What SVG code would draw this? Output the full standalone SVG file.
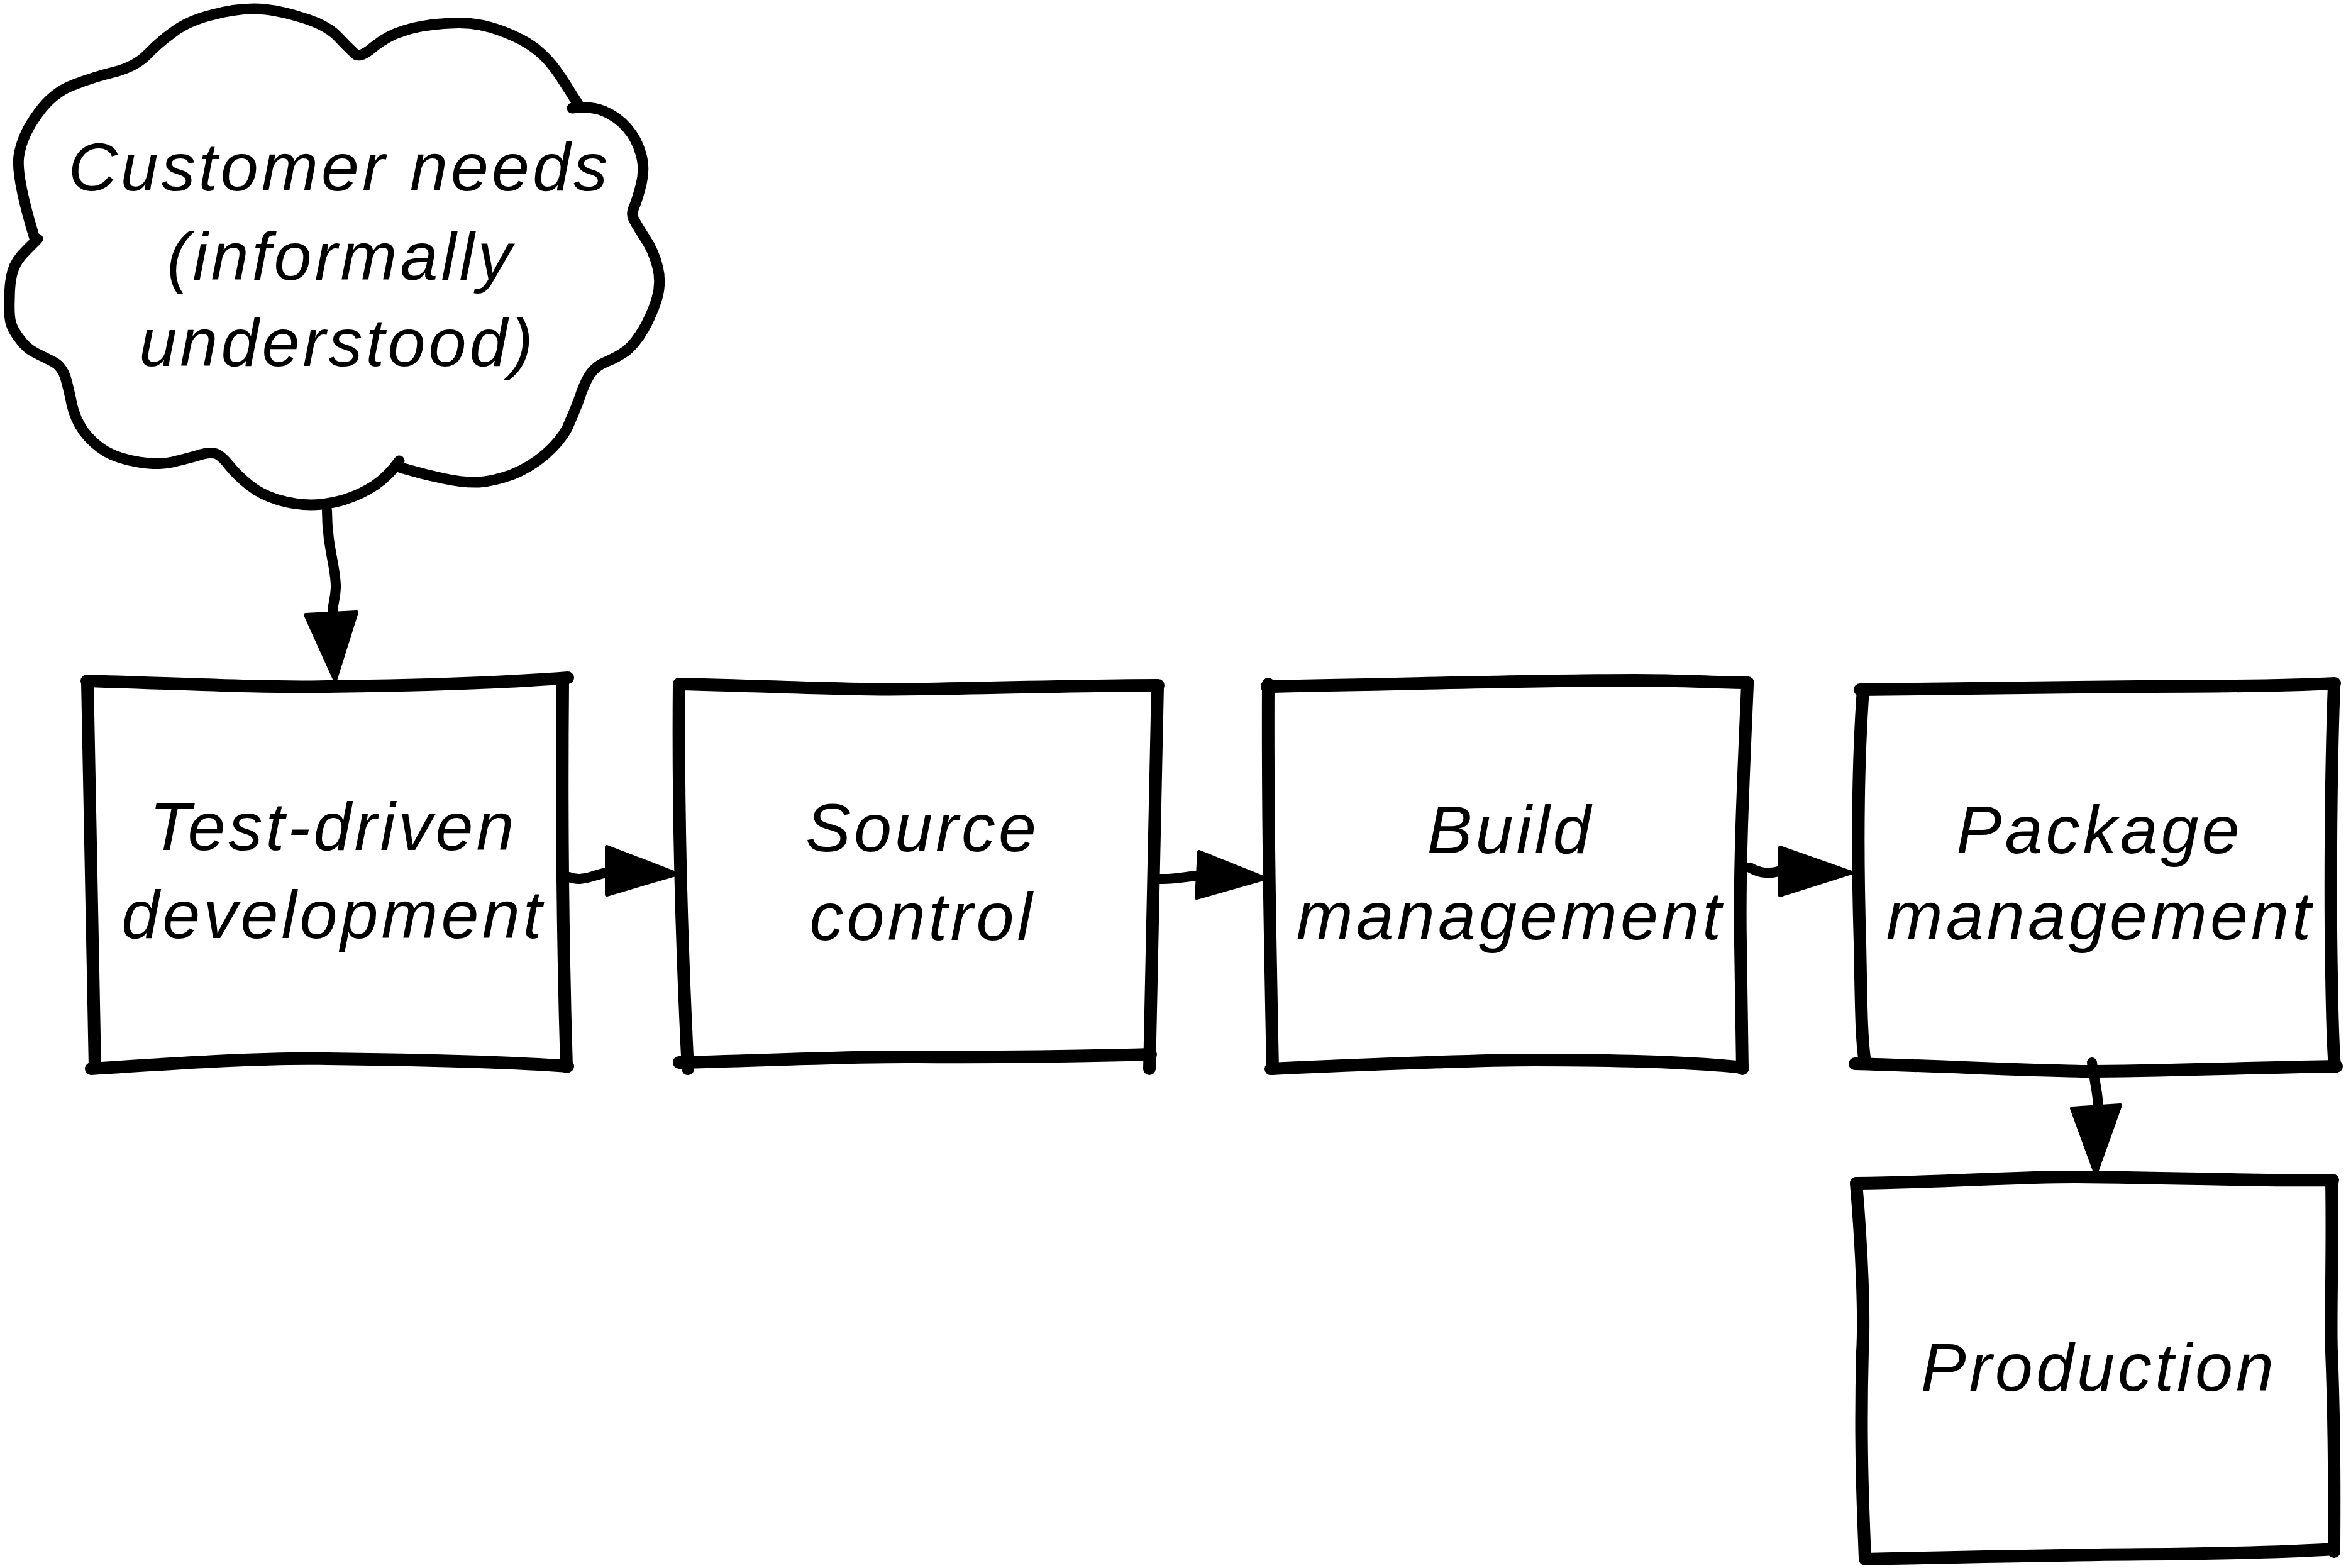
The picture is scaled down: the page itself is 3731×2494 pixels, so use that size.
<svg xmlns="http://www.w3.org/2000/svg" width="3731" height="2494" viewBox="0 0 3731 2494">
<style>
.edge{fill:none;stroke:#000;stroke-width:20;stroke-linecap:round;stroke-linejoin:round}
.cloud{fill:none;stroke:#000;stroke-width:17;stroke-linecap:round;stroke-linejoin:round}
.conn{fill:none;stroke:#000;stroke-width:16;stroke-linecap:round;stroke-linejoin:round}
.head{fill:#000;stroke:#000;stroke-width:6;stroke-linejoin:round}
.lbl{font-family:"Liberation Sans",Arial,sans-serif;font-style:italic;font-size:108px;letter-spacing:5px;text-anchor:middle;fill:#000}
</style>
<rect x="0" y="0" width="3731" height="2494" fill="#fff"/>

<g id="customer-needs">
<path class="cloud" d="M 56,382 Q 25,281 30,248 Q 35,215 60,181 Q 84,147 117,135 Q 150,122 184,114 Q 217,105 235,86 Q 253,67 277,50 Q 300,33 336,24 Q 372,14 404,14 Q 435,14 477,27 Q 519,39 537,58 Q 555,77 564,85 Q 572,94 595,74 Q 617,56 645,48 Q 673,39 716,37 Q 758,34 797,49 Q 835,63 856,81 Q 877,98 898,132 L 919,165"/>
<path class="cloud" d="M 910,172 Q 940,168 961,177 Q 982,186 997,203 Q 1012,220 1019,244 Q 1026,267 1020,292 Q 1014,316 1009,328 Q 1003,340 1008,349 Q 1012,357 1026,379 Q 1040,400 1046,425 Q 1052,449 1045,474 Q 1038,498 1024,523 Q 1010,547 996,558 Q 982,568 965,575 Q 947,582 938,596 Q 929,610 921,635 Q 912,659 902,681 Q 891,702 867,723 Q 842,744 814,755 Q 786,765 762,767 Q 737,768 705,761 Q 673,754 656,749 L 638,744"/>
<path class="cloud" d="M 635,733 Q 617,758 596,772 Q 575,786 547,795 Q 519,803 495,803 Q 470,803 442,795 Q 414,786 397,772 Q 379,758 365,741 Q 351,723 341,721 Q 330,719 313,725 Q 295,730 274,735 Q 253,740 221,735 Q 189,730 168,718 Q 147,705 133,686 Q 119,666 114,642 Q 109,617 104,600 Q 98,582 84,575 Q 70,568 56,561 Q 42,554 32,540 Q 21,526 18,516 Q 14,505 15,477 Q 15,449 20,432 Q 25,414 43,397 L 60,380"/>
<text class="lbl" x="540" y="303">Customer needs</text>
<text class="lbl" x="542" y="445">(informally</text>
<text class="lbl" x="537" y="582">understood)</text>
</g>

<g id="test-driven-development">
<path class="edge" d="M 138,1083 C 300,1088 420,1094 520,1092 C 680,1090 800,1086 903,1078"/>
<path class="edge" d="M 895,1088 C 893,1300 895,1500 901,1697"/>
<path class="edge" d="M 145,1700 C 300,1690 420,1682 520,1684 C 700,1686 820,1690 903,1696"/>
<path class="edge" d="M 139,1085 C 144,1300 146,1500 151,1698"/>
<text class="lbl" x="530" y="1352">Test-driven</text>
<text class="lbl" x="530" y="1492">development</text>
</g>

<g id="source-control">
<path class="edge" d="M 1080,1088 C 1250,1092 1350,1098 1460,1096 C 1600,1094 1720,1090 1842,1090"/>
<path class="edge" d="M 1841,1092 C 1838,1300 1834,1500 1828,1700"/>
<path class="edge" d="M 1080,1690 C 1250,1686 1350,1680 1460,1681 C 1600,1682 1720,1680 1830,1677"/>
<path class="edge" d="M 1080,1088 C 1078,1300 1084,1500 1094,1700"/>
<text class="lbl" x="1467" y="1354">Source</text>
<text class="lbl" x="1467" y="1495">control</text>
</g>

<g id="build-management">
<path class="edge" d="M 2015,1092 C 2250,1088 2450,1082 2600,1082 C 2680,1082 2730,1086 2780,1086"/>
<path class="edge" d="M 2779,1090 C 2772,1250 2766,1380 2768,1500 C 2769,1600 2770,1650 2771,1700"/>
<path class="edge" d="M 2021,1700 C 2200,1692 2350,1686 2440,1686 C 2600,1686 2700,1690 2772,1698"/>
<path class="edge" d="M 2017,1088 C 2016,1300 2020,1500 2024,1700"/>
<text class="lbl" x="2402" y="1357">Build</text>
<text class="lbl" x="2402" y="1494">management</text>
</g>

<g id="package-management">
<path class="edge" d="M 2958,1097 C 3150,1094 3300,1092 3400,1092 C 3550,1092 3650,1090 3713,1087"/>
<path class="edge" d="M 3712,1090 C 3706,1250 3706,1450 3708,1550 C 3709,1620 3710,1660 3713,1697"/>
<path class="edge" d="M 2950,1692 C 3100,1696 3250,1704 3330,1704 C 3500,1702 3620,1697 3716,1696"/>
<path class="edge" d="M 2963,1097 C 2952,1250 2955,1400 2958,1500 C 2960,1600 2960,1650 2966,1690"/>
<text class="lbl" x="3339" y="1357">Package</text>
<text class="lbl" x="3340" y="1494">management</text>
</g>

<g id="production">
<path class="edge" d="M 2952,1882 C 3100,1880 3200,1872 3300,1872 C 3500,1874 3620,1879 3710,1877"/>
<path class="edge" d="M 3708,1878 C 3710,2000 3706,2100 3708,2150 C 3714,2300 3712,2400 3712,2468"/>
<path class="edge" d="M 2966,2480 C 3150,2476 3350,2472 3450,2472 C 3600,2470 3680,2466 3712,2464"/>
<path class="edge" d="M 2952,1882 C 2962,2000 2965,2100 2962,2150 C 2958,2300 2963,2400 2966,2478"/>
<text class="lbl" x="3338" y="2212">Production</text>
</g>

<g id="connectors">
<path class="conn" d="M 520,812 C 520,870 535,905 534,935 C 533,955 528,965 529,978"/>
<polygon class="head" points="486,978 567,974 533,1082"/>
<path class="conn" d="M 905,1395 C 918,1400 930,1398 945,1393 C 952,1391 958,1389 966,1388"/>
<polygon class="head" points="965,1347 965,1423 1077,1390"/>
<path class="conn" d="M 1845,1398 C 1870,1399 1885,1394 1906,1393"/>
<polygon class="head" points="1907,1355 1903,1428 2012,1397"/>
<path class="conn" d="M 2783,1380 C 2800,1390 2815,1390 2832,1385"/>
<polygon class="head" points="2831,1348 2831,1424 2945,1388"/>
<path class="conn" d="M 3327,1690 C 3330,1715 3336,1735 3337,1760"/>
<polygon class="head" points="3295,1763 3372,1758 3333,1867"/>
</g>
</svg>
